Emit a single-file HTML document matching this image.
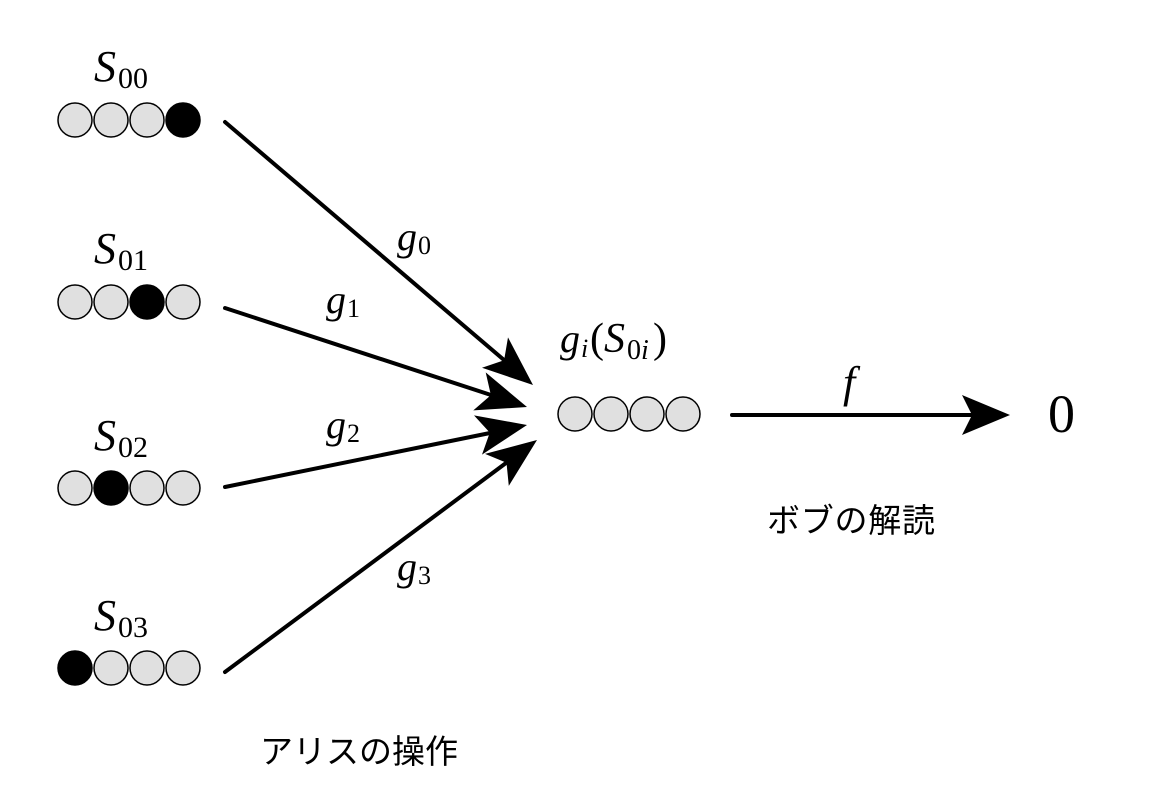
<!DOCTYPE html>
<html><head><meta charset="utf-8"><style>
html,body{margin:0;padding:0;background:#fff}
svg{display:block}
.m{font-family:"Liberation Serif",serif;font-style:italic;fill:#000}
.r{font-family:"Liberation Serif",serif;fill:#000}
.j{font-family:"Liberation Sans","Noto Sans CJK JP",sans-serif;fill:#000}
</style></head><body>
<svg width="1158" height="809" viewBox="0 0 1158 809" xmlns="http://www.w3.org/2000/svg">
<g fill="#e0e0e0" stroke="#000" stroke-width="1.5">
<circle cx="75" cy="120" r="17"/><circle cx="111" cy="120" r="17"/><circle cx="147" cy="120" r="17"/><circle cx="183" cy="120" r="17" fill="#000"/>
<circle cx="75" cy="302" r="17"/><circle cx="111" cy="302" r="17"/><circle cx="147" cy="302" r="17" fill="#000"/><circle cx="183" cy="302" r="17"/>
<circle cx="75" cy="488" r="17"/><circle cx="111" cy="488" r="17" fill="#000"/><circle cx="147" cy="488" r="17"/><circle cx="183" cy="488" r="17"/>
<circle cx="75" cy="668" r="17" fill="#000"/><circle cx="111" cy="668" r="17"/><circle cx="147" cy="668" r="17"/><circle cx="183" cy="668" r="17"/>
<circle cx="575" cy="414" r="17"/><circle cx="611" cy="414" r="17"/><circle cx="647" cy="414" r="17"/><circle cx="683" cy="414" r="17"/>
</g>
<g stroke="#000" stroke-width="4" stroke-linecap="round">
<line x1="225" y1="122" x2="504" y2="360"/>
<line x1="225" y1="308" x2="491" y2="395"/>
<line x1="225" y1="487" x2="490" y2="433"/>
<line x1="225" y1="672" x2="506" y2="463"/>
<line x1="732" y1="415" x2="975" y2="415"/>
</g>
<g fill="#000">
<polygon points="533,385 482,367.8 504.1,360.3 508,337.4"/>
<polygon points="527,407 473.3,410.4 490.9,395.1 485.7,372.4"/>
<polygon points="527,425 482,454.6 489.8,432.6 474,415.4"/>
<polygon points="537,440 508.8,485.9 506.5,462.7 485,453.9"/>
<polygon points="1010,415 962,435 972,415 962,395"/>
</g>
<text class="m" x="94" y="81" font-size="44">S</text><text class="r" x="118" y="88" font-size="30">00</text>
<text class="m" x="94" y="263" font-size="44">S</text><text class="r" x="118" y="270" font-size="30">01</text>
<text class="m" x="94" y="450" font-size="44">S</text><text class="r" x="118" y="457" font-size="30">02</text>
<text class="m" x="94" y="630" font-size="44">S</text><text class="r" x="118" y="637" font-size="30">03</text>
<text class="m" x="397" y="250" font-size="40">g</text><text class="r" x="418" y="254" font-size="26">0</text>
<text class="m" x="326" y="313" font-size="40">g</text><text class="r" x="347" y="317" font-size="26">1</text>
<text class="m" x="326" y="438" font-size="40">g</text><text class="r" x="347" y="442" font-size="26">2</text>
<text class="m" x="397" y="580" font-size="40">g</text><text class="r" x="418" y="584" font-size="26">3</text>
<text class="m" x="560" y="352" font-size="40">g</text><text class="m" x="581" y="357" font-size="26">i</text>
<text class="r" x="590" y="352" font-size="42">(</text><text class="m" x="604" y="352" font-size="42">S</text><text class="r" x="627" y="359" font-size="28">0</text><text class="m" x="641" y="359" font-size="28">i</text><text class="r" x="653" y="352" font-size="42">)</text>
<text class="m" x="843" y="397" font-size="44">f</text>
<text class="r" x="1048" y="432" font-size="54">0</text>
<text class="j" x="767" y="532" font-size="33" textLength="168">ボブの解読</text>
<text class="j" x="260" y="763" font-size="33">アリスの操作</text>
</svg>
</body></html>
